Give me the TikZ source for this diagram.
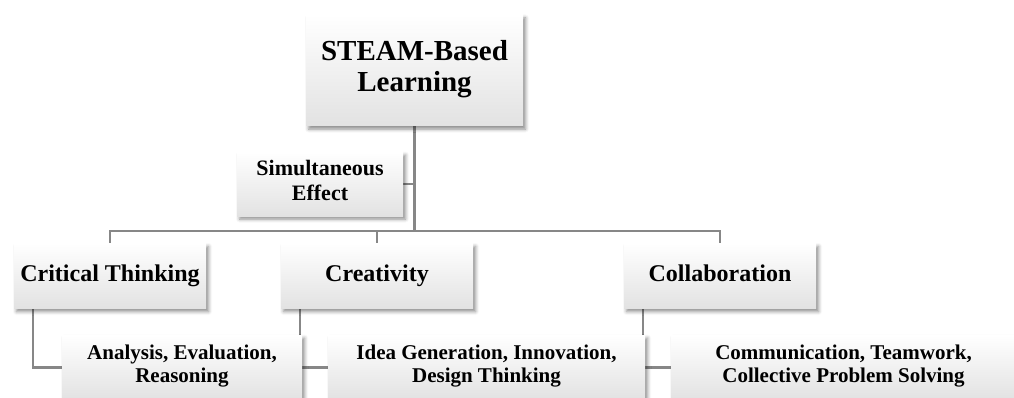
\documentclass[tikz,border=0pt]{standalone}
\usepackage{fontspec}
\setmainfont{Liberation Serif}
\usetikzlibrary{shadows.blur,backgrounds}
\definecolor{linkgray}{HTML}{878787}
\definecolor{shadegray}{HTML}{E2E2E2}
\begin{document}
\begin{tikzpicture}[x=1pt,y=-1pt,
  box/.style={shading=axis, top color=white, middle color=white, bottom color=shadegray,
    align=center, inner sep=0pt, text=black,
    execute at begin node=\strut, execute at end node=\strut,
    blur shadow={shadow xshift=2.5pt, shadow yshift=-3pt, shadow blur radius=3.5pt, shadow opacity=45}},
  topbox/.style={box, minimum width=217pt, minimum height=111pt, font=\bfseries\fontsize{29}{31}\selectfont},
  midbox/.style={box, minimum width=192pt, minimum height=65pt, font=\bfseries\fontsize{24}{26}\selectfont},
  sidebox/.style={box, minimum width=166pt, minimum height=64pt, font=\bfseries\fontsize{22}{25}\selectfont},
  leafbox/.style={box, minimum height=65pt, font=\bfseries\fontsize{21}{23}\selectfont},
  conn/.style={draw=linkgray, line width=2.5pt}]
\useasboundingbox (0,0) rectangle (1014,398);
\coordinate (bus) at (0,231);
% root and side note
\node[topbox] (top) at (414.5,70.5) {STEAM-Based\\Learning};
\node[sidebox] (sim) at (320,184) {Simultaneous\\Effect};
% second level
\node[midbox] (ct) at (110,276) {Critical Thinking};
\node[midbox] (cr) at (377,276) {Creativity};
\node[midbox] (co) at (720,276) {Collaboration};
% third level
\node[leafbox, minimum width=240pt] (an) at (182,367.5) {Analysis, Evaluation,\\Reasoning};
\node[leafbox, minimum width=317pt] (id) at (486.5,367.5) {Idea Generation, Innovation,\\Design Thinking};
\node[leafbox, minimum width=345pt] (cm) at (843.5,367.5) {Communication, Teamwork,\\Collective Problem Solving};
% connectors beneath the boxes
\begin{scope}[on background layer]
  \draw[conn] (top.south) -- (top.south |- bus);
  \draw[conn] (sim.east) -- (sim.east -| top.south);
  \draw[conn] (ct.north) -- (ct.north |- bus) -- (co.north |- bus) -- (co.north);
  \draw[conn] (cr.north) -- (cr.north |- bus);
  \draw[conn] ([xshift=19pt]ct.south west) |- (an.west);
  \draw[conn] ([xshift=19pt]cr.south west) |- (id.west);
  \draw[conn] ([xshift=19pt]co.south west) |- (cm.west);
\end{scope}
\end{tikzpicture}
\end{document}
